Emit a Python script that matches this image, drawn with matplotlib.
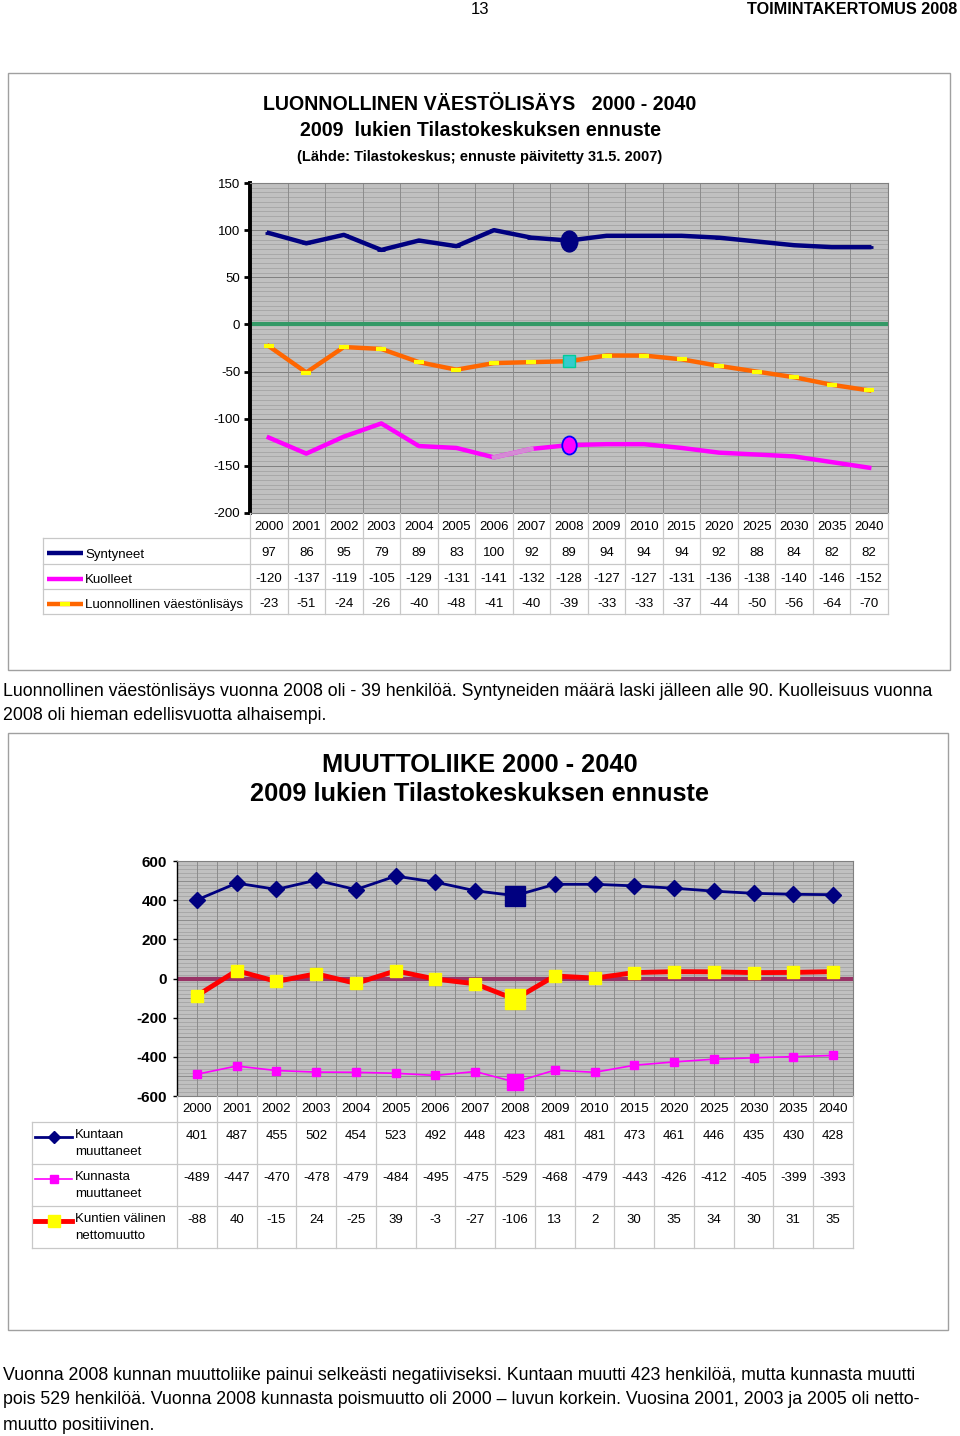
import numpy as np
import matplotlib
matplotlib.use('Agg')
import matplotlib.pyplot as plt
from matplotlib.patches import Rectangle
from matplotlib.path import Path
from matplotlib.transforms import Affine2D

plt.rcParams['axes.unicode_minus'] = False

# --- data ---
years = ['2000', '2001', '2002', '2003', '2004', '2005', '2006', '2007', '2008',
         '2009', '2010', '2015', '2020', '2025', '2030', '2035', '2040']
syntyneet = [97, 86, 95, 79, 89, 83, 100, 92, 89, 94, 94, 94, 92, 88, 84, 82, 82]
kuolleet = [-120, -137, -119, -105, -129, -131, -141, -132, -128, -127, -127, -131, -136, -138, -140, -146, -152]
luonnollinen = [-23, -51, -24, -26, -40, -48, -41, -40, -39, -33, -33, -37, -44, -50, -56, -64, -70]

kuntaan = [401, 487, 455, 502, 454, 523, 492, 448, 423, 481, 481, 473, 461, 446, 435, 430, 428]
kunnasta = [-489, -447, -470, -478, -479, -484, -495, -475, -529, -468, -479, -443, -426, -412, -405, -399, -393]
netto = [-88, 40, -15, 24, -25, 39, -3, -27, -106, 13, 2, 30, 35, 34, 30, 31, 35]

labels1 = ['Syntyneet', 'Kuolleet', 'Luonnollinen väestönlisäys']
labels2 = ['Kuntaan\nmuuttaneet', 'Kunnasta\nmuuttaneet', 'Kuntien välinen\nnettomuutto']

highlight = years.index('2008')

SANS = ['Liberation Sans', 'DejaVu Sans']

W, H = 960, 1436
fig = plt.figure(figsize=(W / 100, H / 100), dpi=100)


def px_axes(x0, y0, x1, y1):
    return fig.add_axes([x0 / W, 1 - y1 / H, (x1 - x0) / W, (y1 - y0) / H])


# page layer for boxes and running text
page = fig.add_axes([0, 0, 1, 1])
page.set_xlim(0, W)
page.set_ylim(H, 0)
page.axis('off')

page.text(480, 10, '13', ha='center', va='center', fontsize=12, family=SANS)
page.text(957, 10, 'TOIMINTAKERTOMUS 2008', ha='right', va='center', fontsize=11.7,
          fontweight='bold', family=SANS)

page.add_patch(Rectangle((8, 73), 942, 597, fill=False, edgecolor='#A0A0A0', lw=1))
page.add_patch(Rectangle((8, 733), 940, 597, fill=False, edgecolor='#A0A0A0', lw=1))

page.text(480, 104, 'LUONNOLLINEN VÄESTÖLISÄYS   2000 - 2040', ha='center', va='center',
          fontsize=14.1, fontweight='bold', family=SANS)
page.text(481, 130, '2009  lukien Tilastokeskuksen ennuste', ha='center', va='center',
          fontsize=14.1, fontweight='bold', family=SANS)
page.text(480, 157, '(Lähde: Tilastokeskus; ennuste päivitetty 31.5. 2007)', ha='center', va='center',
          fontsize=10.5, fontweight='bold', family=SANS)

page.text(480, 765, 'MUUTTOLIIKE 2000 - 2040', ha='center', va='center',
          fontsize=18.3, fontweight='bold', family=SANS)
page.text(480, 794, '2009 lukien Tilastokeskuksen ennuste', ha='center', va='center',
          fontsize=18.3, fontweight='bold', family=SANS)

para1 = ['Luonnollinen väestönlisäys vuonna 2008 oli - 39 henkilöä. Syntyneiden määrä laski jälleen alle 90. Kuolleisuus vuonna',
         '2008 oli hieman edellisvuotta alhaisempi.']
for i, line in enumerate(para1):
    page.text(3, 691 + 25 * i, line, ha='left', va='center', fontsize=12.8, family=SANS)

para2 = ['Vuonna 2008 kunnan muuttoliike painui selkeästi negatiiviseksi. Kuntaan muutti 423 henkilöä, mutta kunnasta muutti',
         'pois 529 henkilöä. Vuonna 2008 kunnasta poismuutto oli 2000 – luvun korkein. Vuosina 2001, 2003 ja 2005 oli netto-',
         'muutto positiivinen.']
for i, line in enumerate(para2):
    page.text(3, 1375 + 25 * i, line, ha='left', va='center', fontsize=12.8, family=SANS)

x = np.arange(len(years))
ellipse = Path.unit_circle().transformed(Affine2D().scale(0.8, 1.0))

# --- chart 1 ---
ax1 = px_axes(250, 183, 888, 513)
ax1.set_facecolor('#C0C0C0')
ax1.set_xlim(-0.5, len(years) - 0.5)
ax1.set_ylim(-200, 150)
for v in range(-200, 151, 5):
    ax1.axhline(v, color='#808080' if v % 50 == 0 else '#A8A8A8', lw=0.7, zorder=1)
for i in range(len(years) - 1):
    ax1.axvline(i + 0.5, color='#8C8C8C', lw=0.7, zorder=1)
ax1.axhline(0, color='#339966', lw=3, zorder=2)

ax1.plot(x, syntyneet, color='#000080', lw=3.2, marker='_', ms=6, mew=2, zorder=4)
ax1.plot(highlight, syntyneet[highlight], marker=ellipse, ms=15, color='#000080', zorder=5)

ax1.plot(x, kuolleet, color='#FF00FF', lw=3.2, zorder=4)
ax1.plot(x[6:8], kuolleet[6:8], color='#D58AD5', lw=3.2, zorder=4)
ax1.plot(highlight, kuolleet[highlight], marker=ellipse, ms=13, mfc='#FF00FF', mec='#0000FF',
         mew=1.3, zorder=5)

ax1.plot(x, luonnollinen, color='#FF6600', lw=3.2, marker='_', ms=7, mec='#FFFF00', mew=3, zorder=4)
ax1.plot(highlight, luonnollinen[highlight], marker='s', ms=8, mfc='#33CCCC', mec='#00CC99',
         mew=1, zorder=5)

ax1.set_xticks([])
ax1.set_yticks(range(-200, 151, 50))
ax1.tick_params(axis='y', direction='out', length=4, width=2, pad=3, labelsize=9.5)
for lab in ax1.get_yticklabels():
    lab.set_family(SANS)
for s in ['top', 'right', 'bottom']:
    ax1.spines[s].set_color('#808080')
    ax1.spines[s].set_linewidth(0.8)
ax1.spines['left'].set_linewidth(2.8)

# --- table 1 ---
t1 = px_axes(43, 513, 888, 614)
lo1 = -0.5 - (250 - 43) / 37.53
t1.set_xlim(lo1, len(years) - 0.5)
t1.set_ylim(4, 0)
t1.axis('off')
grid_c = '#C8C8C8'
for r in range(1, 5):
    t1.plot([lo1, len(years) - 0.5], [r, r], color=grid_c, lw=0.9, clip_on=False)
t1.plot([lo1, lo1], [1, 4], color=grid_c, lw=0.9, clip_on=False)
for i in range(-1, len(years)):
    t1.plot([i + 0.5, i + 0.5], [0, 4], color=grid_c, lw=0.9, clip_on=False)
for i, yr in enumerate(years):
    t1.text(i, 0.55, yr, ha='center', va='center', fontsize=9.5, family=SANS)
rows1 = [syntyneet, kuolleet, luonnollinen]
colors1 = ['#000080', '#FF00FF', '#FF6600']
for r, vals in enumerate(rows1):
    for i, v in enumerate(vals):
        t1.text(i, r + 1.6, str(v), ha='center', va='center', fontsize=9.5, family=SANS)
    kx = [lo1 + 4 / 37.53, lo1 + 40 / 37.53]
    t1.plot(kx, [r + 1.6, r + 1.6], color=colors1[r], lw=3.2, solid_capstyle='butt', clip_on=False)
    t1.text(lo1 + 42 / 37.53, r + 1.65, labels1[r], ha='left', va='center', fontsize=9.5, family=SANS)
t1.plot(lo1 + 22 / 37.53, 3.6, marker='_', ms=7, mew=3, mec='#FFFF00', clip_on=False)

# --- chart 2 ---
ax2 = px_axes(177, 861, 853, 1096)
ax2.set_facecolor('#C0C0C0')
ax2.set_xlim(-0.5, len(years) - 0.5)
ax2.set_ylim(-600, 600)
for v in range(-600, 601, 20):
    ax2.axhline(v, color='#8C8C8C' if v % 100 == 0 else '#A8A8A8', lw=0.7, zorder=1)
for i in range(2 * len(years) - 1):
    ax2.axvline(i * 0.5, color='#8C8C8C', lw=0.7, zorder=1)
ax2.axhline(0, color='#993366', lw=3, zorder=2)

ax2.plot(x, kuntaan, color='#000080', lw=2, marker='D', ms=8, zorder=4)
ax2.plot(highlight, kuntaan[highlight], marker='s', ms=15, color='#000080', zorder=5)
ax2.plot(x, kunnasta, color='#FF00FF', lw=1.2, marker='s', ms=6, zorder=4)
ax2.plot(highlight, kunnasta[highlight], marker='s', ms=12, color='#FF00FF', zorder=5)
ax2.plot(x, netto, color='#FF0000', lw=3.5, marker='s', ms=9, mfc='#FFFF00', mec='#FFFF00', zorder=4)
ax2.plot(highlight, netto[highlight], marker='s', ms=15, mfc='#FFFF00', mec='#FFFF00', zorder=5)

ax2.set_xticks([])
ax2.set_yticks(range(-600, 601, 200))
ax2.tick_params(axis='y', direction='out', length=3, width=1, pad=4, labelsize=11)
for lab in ax2.get_yticklabels():
    lab.set_family(SANS)
    lab.set_fontweight('bold')
for s in ['top', 'right', 'bottom']:
    ax2.spines[s].set_color('#808080')
    ax2.spines[s].set_linewidth(0.8)
ax2.spines['left'].set_linewidth(1)

# --- table 2 ---
t2 = px_axes(32, 1096, 853, 1248)
lo2 = -0.5 - (177 - 32) / 39.76
edges = [0, 26, 68, 110, 152]
t2.set_xlim(lo2, len(years) - 0.5)
t2.set_ylim(152, 0)
t2.axis('off')
for e in edges[1:]:
    t2.plot([lo2, len(years) - 0.5], [e, e], color=grid_c, lw=0.9, clip_on=False)
t2.plot([lo2, lo2], [edges[1], edges[-1]], color=grid_c, lw=0.9, clip_on=False)
for i in range(-1, len(years)):
    t2.plot([i + 0.5, i + 0.5], [0, edges[-1]], color=grid_c, lw=0.9, clip_on=False)
for i, yr in enumerate(years):
    t2.text(i, 13, yr, ha='center', va='center', fontsize=9.5, family=SANS)
rows2 = [kuntaan, kunnasta, netto]
for r, vals in enumerate(rows2):
    top = edges[r + 1]
    for i, v in enumerate(vals):
        t2.text(i, top + 14, str(v), ha='center', va='center', fontsize=9.5, family=SANS)
    t2.text(lo2 + 43 / 39.76, top + 7, labels2[r], ha='left', va='top', fontsize=9.5,
            family=SANS, linespacing=1.6)
kx2 = [lo2 + 3 / 39.76, lo2 + 40 / 39.76]
t2.plot(kx2, [edges[1] + 15] * 2, color='#000080', lw=2, clip_on=False)
t2.plot(np.mean(kx2), edges[1] + 15, marker='D', ms=6, color='#000080', clip_on=False)
t2.plot(kx2, [edges[2] + 15] * 2, color='#FF00FF', lw=1.2, clip_on=False)
t2.plot(np.mean(kx2), edges[2] + 15, marker='s', ms=6, color='#FF00FF', clip_on=False)
t2.plot(kx2, [edges[3] + 15] * 2, color='#FF0000', lw=3.5, clip_on=False)
t2.plot(np.mean(kx2), edges[3] + 15, marker='s', ms=9, color='#FFFF00', clip_on=False)

fig.savefig('out.png', dpi=100)
